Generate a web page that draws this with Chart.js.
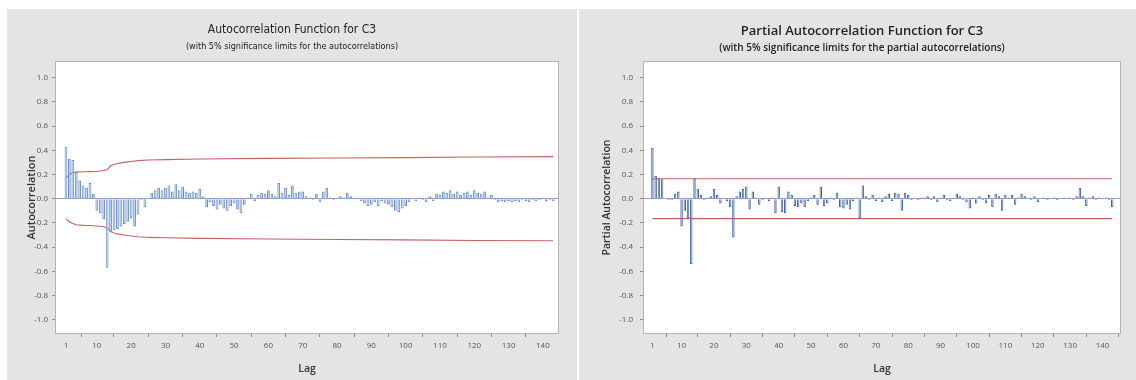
<!DOCTYPE html>
<html>
<head>
<meta charset="utf-8">
<script src="https://cdn.jsdelivr.net/npm/chart.js@4.4.1/dist/chart.umd.min.js"></script>
<style>
  html,body{margin:0;padding:0;background:#fff;width:1136px;height:380px;overflow:hidden;}
  .panel{position:absolute;top:9px;height:371px;background:#e4e4e4;}
  #p1{left:7px;width:570px;}
  #p2{left:579px;width:557px;}
  canvas{position:absolute;left:0;top:0;}
  .t{position:absolute;left:0;width:100%;text-align:center;white-space:nowrap;color:#222;}
  #p1 .t1{top:13px;font:500 12px "Liberation Sans Narrow","DejaVu Sans Condensed",sans-serif;font-stretch:condensed;}
  #p1 .t2{top:32px;font:9px "Liberation Sans Narrow","DejaVu Sans Condensed",sans-serif;font-stretch:condensed;}
  #p2 .t1{top:12px;font:600 13px "Open Sans",sans-serif;padding-left:9px;box-sizing:border-box;}
  #p2 .t2{top:31px;font:600 10px "Open Sans",sans-serif;padding-left:9px;box-sizing:border-box;}
</style>
</head>
<body>
<div class="panel" id="p1">
  <canvas id="c1" width="570" height="371"></canvas>
  <div class="t t1">Autocorrelation Function for C3</div>
  <div class="t t2">(with 5% significance limits for the autocorrelations)</div>
</div>
<div class="panel" id="p2">
  <canvas id="c2" width="557" height="371"></canvas>
  <div class="t t1">Partial Autocorrelation Function for C3</div>
  <div class="t t2">(with 5% significance limits for the partial autocorrelations)</div>
</div>
<script>
// ---------------- DATA ----------------
const xTickLabels = [1,10,20,30,40,50,60,70,80,90,100,110,120,130,140];
const yTickLabels = [-1.0,-0.8,-0.6,-0.4,-0.2,0.0,0.2,0.4,0.6,0.8,1.0];

// autocorrelations, lags 1..143
const acfValues = [
  0.43, 0.33, 0.32, 0.22, 0.15, 0.11, 0.09, 0.13, 0.04,-0.10,
 -0.12,-0.17,-0.57,-0.27,-0.26,-0.25,-0.23,-0.21,-0.19,-0.16,
 -0.23,-0.13,-0.01,-0.07, 0.00, 0.05, 0.07, 0.09, 0.07, 0.09,
  0.11, 0.06, 0.12, 0.07, 0.10, 0.06, 0.05, 0.06, 0.05, 0.08,
  0.02,-0.07,-0.03,-0.06,-0.09,-0.05,-0.08,-0.10,-0.06,-0.04,
 -0.09,-0.12,-0.05, 0.01, 0.04,-0.02, 0.03, 0.05, 0.04, 0.07,
  0.04, 0.02, 0.13, 0.05, 0.09, 0.03, 0.11, 0.05, 0.06, 0.06,
  0.02, 0.01,-0.01, 0.04,-0.03, 0.06, 0.09, 0.01,-0.01, 0.00,
  0.02, 0.01, 0.05, 0.02, 0.00, 0.01,-0.02,-0.04,-0.06,-0.05,
 -0.03,-0.06,-0.02,-0.04,-0.05,-0.07,-0.10,-0.11,-0.08,-0.06,
 -0.03, 0.00,-0.02, 0.01,-0.01,-0.03, 0.02,-0.02, 0.04, 0.03,
  0.06, 0.05, 0.07, 0.04, 0.06, 0.03, 0.05, 0.06, 0.03, 0.07,
  0.05, 0.04, 0.06, 0.01, 0.03,-0.01,-0.03,-0.02,-0.03,-0.02,
 -0.03,-0.02,-0.03,-0.01,-0.02,-0.03,-0.01,-0.02,-0.01, 0.01,
 -0.02,-0.01,-0.02
];

// partial autocorrelations, lags 1..143
const pacfValues = [
  0.42, 0.19, 0.17, 0.16, 0.00,-0.01,-0.01, 0.04, 0.06,-0.23,
 -0.10,-0.16,-0.54, 0.17, 0.08, 0.03,-0.01, 0.01, 0.02, 0.08,
  0.03,-0.04, 0.00,-0.02,-0.07,-0.32, 0.02, 0.06, 0.08, 0.10,
 -0.09, 0.06, 0.01,-0.05,-0.01, 0.00,-0.02, 0.01,-0.12, 0.10,
 -0.11,-0.12, 0.06, 0.03,-0.06,-0.07,-0.04,-0.07,-0.02, 0.01,
  0.03,-0.05, 0.10,-0.06,-0.04, 0.01,-0.01, 0.05,-0.07,-0.08,
 -0.05,-0.09,-0.02, 0.01,-0.16, 0.11, 0.02,-0.01, 0.03,-0.02,
  0.01,-0.03, 0.02, 0.04,-0.02, 0.05, 0.04,-0.10, 0.05, 0.03,
 -0.01, 0.00,-0.01, 0.01, 0.01, 0.02,-0.01, 0.02,-0.03, 0.01,
  0.03,-0.01,-0.02, 0.00, 0.04, 0.02,-0.01,-0.03,-0.08, 0.01,
 -0.04, 0.02,-0.01,-0.04, 0.03,-0.07, 0.04, 0.02,-0.10, 0.03,
  0.01, 0.03,-0.05, 0.01, 0.04, 0.02, 0.00,-0.01, 0.02,-0.03,
  0.00, 0.01,-0.01, 0.00, 0.01,-0.01, 0.00, 0.01, 0.00, 0.01,
 -0.01, 0.02, 0.09, 0.02,-0.06, 0.01, 0.02,-0.01, 0.01, 0.00,
  0.01,-0.01,-0.07
];

// ACF 5% significance limits, read at selected lags
const acfLimitLags  = [1, 2, 3, 4, 6, 8, 10, 11, 12, 13, 14, 15, 16, 18, 20, 22, 25, 30, 40, 60, 80, 100, 120, 143];
const acfUpperLimit = [0.17,0.2,0.215,0.22,0.223,0.224,0.226,0.229,0.233,0.24,0.272,0.283,0.291,0.30,0.308,0.315,0.32,0.323,0.328,0.333,0.337,0.34,0.345,0.348];
const acfLowerLimit = [-0.165,-0.19,-0.205,-0.215,-0.22,-0.222,-0.225,-0.228,-0.232,-0.24,-0.272,-0.283,-0.291,-0.30,-0.308,-0.315,-0.32,-0.323,-0.328,-0.333,-0.337,-0.34,-0.345,-0.348];

// PACF 5% significance limits
const pacfLimitLags  = [1, 143];
const pacfUpperLimit = [0.165, 0.165];
const pacfLowerLimit = [-0.165, -0.165];

const lags = acfValues.map((_, i) => i + 1);

// ---------------- DRAWING ----------------
const plotBox = {
  id: 'plotBox',
  beforeDraw(chart) {
    const {ctx, chartArea: a} = chart;
    ctx.save();
    ctx.fillStyle = '#ffffff';
    ctx.fillRect(a.left, a.top, a.right - a.left, a.bottom - a.top);
    ctx.restore();
  },
  afterDraw(chart) {
    const {ctx, chartArea: a} = chart;
    ctx.save();
    ctx.strokeStyle = '#b4b4b4';
    ctx.lineWidth = 1;
    ctx.strokeRect(Math.round(a.left) - 0.5, Math.round(a.top) - 0.5, Math.round(a.right - a.left) + 1, Math.round(a.bottom - a.top) + 1);
    ctx.restore();
  }
};

function makeChart(id, cfg) {
  const pts = (xs, ys) => xs.map((x, i) => ({x: x, y: ys[i]}));
  return new Chart(document.getElementById(id), {
    type: 'bar',
    data: {
      datasets: [
        {
          type: 'bar',
          data: pts(lags, cfg.values),
          backgroundColor: cfg.barFill,
          borderColor: cfg.barEdge,
          borderWidth: 1,
          categoryPercentage: 1,
          barPercentage: cfg.barPct,
          order: 1
        },
        {
          type: 'line',
          data: pts(cfg.limLags, cfg.upper),
          borderColor: '#c86060',
          borderWidth: 1.1,
          pointRadius: 0,
          fill: false,
          order: 2
        },
        {
          type: 'line',
          data: pts(cfg.limLags, cfg.lower),
          borderColor: '#c86060',
          borderWidth: 1.1,
          pointRadius: 0,
          fill: false,
          order: 2
        }
      ]
    },
    options: {
      responsive: false,
      animation: false,
      devicePixelRatio: 1,
      layout: {padding: {top: 53, right: cfg.rightPad, left: 0, bottom: 0}},
      plugins: {legend: {display: false}, tooltip: {enabled: false}, title: {display: false}},
      scales: {
        x: {
          type: 'linear',
          min: cfg.xMin, max: cfg.xMax,
          offset: false,
          afterBuildTicks: s => { s.ticks = xTickLabels.map(v => ({value: v})); },
          afterFit: s => { s.height = 47; },
          grid: {color: 'rgba(0,0,0,0)', tickColor: '#8a8a8a', tickLength: 4, drawOnChartArea: false},
          border: {display: false},
          ticks: {font: {family: 'Open Sans', size: 8}, color: '#555', padding: 4, maxRotation: 0, autoSkip: false,
                  callback: v => String(v)},
          title: {display: true, text: 'Lag', font: {family: 'Open Sans', size: 10.5, weight: '600'}, color: '#333',
                  padding: {top: 0, bottom: 5}}
        },
        y: {
          min: -1.11, max: 1.13,
          afterBuildTicks: s => { s.ticks = yTickLabels.map(v => ({value: v})); },
          afterFit: s => { s.width = cfg.yWidth; },
          grid: {
            color: c => (c.tick && Math.abs(c.tick.value) < 1e-9) ? '#8aa3c8' : 'rgba(0,0,0,0)',
            tickColor: '#8a8a8a', tickLength: 4, lineWidth: 1
          },
          border: {display: false},
          ticks: {font: {family: 'Open Sans', size: 8}, color: '#555', padding: cfg.yPad, autoSkip: false,
                  callback: v => Number(v).toFixed(1)},
          title: {display: true, text: cfg.yTitle, font: {family: 'Open Sans', size: cfg.yTitleSize, weight: '600'}, color: '#333',
                  padding: {top: cfg.yTitlePad, bottom: 0}}
        }
      }
    },
    plugins: [plotBox]
  });
}

makeChart('c1', {
  values: acfValues, limLags: acfLimitLags, upper: acfUpperLimit, lower: acfLowerLimit,
  xMin: -1.9, xMax: 144.4, rightPad: 19, yWidth: 49, yPad: 4, barPct: 0.8,
  barFill: '#b3ccee', barEdge: '#6a8cc2',
  yTitle: 'Autocorrelation', yTitleSize: 11, yTitlePad: 18
});
makeChart('c2', {
  values: pacfValues, limLags: pacfLimitLags, upper: pacfUpperLimit, lower: pacfLowerLimit,
  xMin: -1.6, xMax: 145.4, rightPad: 16, yWidth: 65, yPad: 7, barPct: 0.75,
  barFill: '#a6c3e8', barEdge: '#41609a',
  yTitle: 'Partial Autocorrelation', yTitleSize: 10.5, yTitlePad: 22
});
</script>
</body>
</html>
